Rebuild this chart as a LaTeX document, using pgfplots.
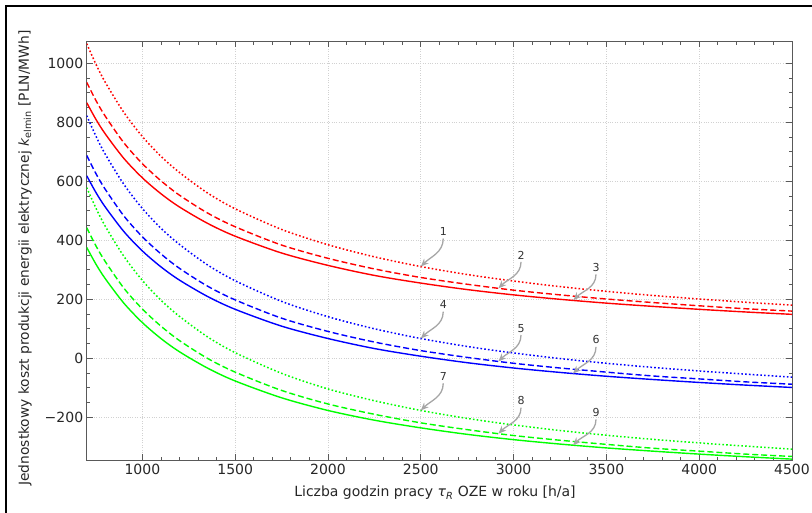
\documentclass[border=0pt]{standalone}
\usepackage{pgfplots}
\pgfplotsset{compat=1.18}
\usepackage{fontspec}
\setmainfont{DejaVu Sans}
\usetikzlibrary{arrows.meta}
\begin{document}
\begin{tikzpicture}
\useasboundingbox (0,0) rectangle (812pt,512pt);
\draw[black, line width=1.3pt] (6pt,-2pt) -- (6pt,506pt) -- (815pt,506pt);
\node[rotate=90, font=\fontsize{13.8}{16}\selectfont, text=black!85] at (25pt,254pt)
  {Jednostkowy koszt produkcji energii elektrycznej \textit{k}\textsubscript{elmin} [PLN/MWh]};
\node[font=\fontsize{14}{16}\selectfont, text=black!85] at (435pt,19pt)
  {Liczba godzin pracy \textit{τ}\textsubscript{\textit{R}} OZE w roku [h/a]};
\begin{axis}[
  at={(86.7pt,52pt)}, anchor=south west,
  scale only axis, width=705.3pt, height=418.7pt,
  xmin=700, xmax=4500, ymin=-345, ymax=1075,
  xtick={1000,1500,2000,2500,3000,3500,4000,4500},
  xticklabels={1000,1500,2000,2500,3000,3500,4000,4500},
  ytick={-200,0,200,400,600,800,1000},
  yticklabels={−200,0,200,400,600,800,1000},
  minor x tick num=4, minor y tick num=3,
  tick align=inside, tick pos=both,
  xticklabel pos=bottom, yticklabel pos=left,
  major tick length=6pt, minor tick length=3.5pt,
  grid=major,
  major grid style={dash pattern=on 0.8pt off 1.6pt, black!18, line width=0.6pt},
  axis line style={black!65, line width=0.9pt},
  tick style={black!65, line width=0.8pt},
  tick label style={font=\fontsize{14}{16}\selectfont, text=black!85},
  xticklabel style={yshift=-1pt},
  clip=true,
]
\pgfplotsset{
  sol/.style={line width=1.4pt, smooth},
  das/.style={line width=1.4pt, smooth, dash pattern=on 6pt off 3pt},
  dot/.style={line width=1.5pt, smooth, dash pattern=on 1.6pt off 2.2pt},
}
% red
\addplot[sol, red] coordinates {(700,867)(750,810)(800,761)(900,678)(1000,612)(1100,558)(1200,513)(1350,458)(1500,414)(1750,357)(2000,315)(2250,281)(2500,255)(2750,233)(3000,215)(3250,200)(3500,187)(3750,176)(4000,166)(4250,157)(4500,149)};
\addplot[das, red] coordinates {(700,936)(750,874)(800,821)(900,731)(1000,660)(1100,602)(1200,553)(1350,493)(1500,446)(1750,384)(2000,339)(2250,303)(2500,274)(2750,251)(3000,231)(3250,215)(3500,201)(3750,189)(4000,178)(4250,168)(4500,160)};
\addplot[dot, red] coordinates {(700,1067)(750,997)(800,936)(900,834)(1000,752)(1100,685)(1200,630)(1350,561)(1500,507)(1750,437)(2000,385)(2250,344)(2500,311)(2750,284)(3000,262)(3250,243)(3500,227)(3750,213)(4000,201)(4250,190)(4500,180)};
% blue
\addplot[sol, blue] coordinates {(700,619)(750,562)(800,513)(900,430)(1000,364)(1100,310)(1200,265)(1350,210)(1500,166)(1750,109)(2000,67)(2250,33)(2500,7)(2750,-15)(3000,-33)(3250,-48)(3500,-61)(3750,-72)(4000,-82)(4250,-91)(4500,-99)};
\addplot[das, blue] coordinates {(700,688)(750,626)(800,573)(900,483)(1000,412)(1100,354)(1200,305)(1350,245)(1500,198)(1750,136)(2000,91)(2250,55)(2500,26)(2750,3)(3000,-17)(3250,-33)(3500,-47)(3750,-60)(4000,-70)(4250,-80)(4500,-88)};
\addplot[dot, blue] coordinates {(700,823)(750,753)(800,692)(900,590)(1000,508)(1100,441)(1200,386)(1350,317)(1500,263)(1750,193)(2000,141)(2250,100)(2500,67)(2750,40)(3000,18)(3250,-1)(3500,-17)(3750,-31)(4000,-43)(4250,-54)(4500,-64)};
% green
\addplot[sol, green] coordinates {(700,376)(750,319)(800,270)(900,187)(1000,121)(1100,67)(1200,22)(1350,-33)(1500,-77)(1750,-134)(2000,-177)(2250,-210)(2500,-236)(2750,-258)(3000,-276)(3250,-291)(3500,-304)(3750,-315)(4000,-325)(4250,-334)(4500,-342)};
\addplot[das, green] coordinates {(700,443)(750,381)(800,328)(900,238)(1000,167)(1100,109)(1200,60)(1350,0)(1500,-47)(1750,-109)(2000,-155)(2250,-190)(2500,-219)(2750,-242)(3000,-262)(3250,-278)(3500,-292)(3750,-305)(4000,-315)(4250,-325)(4500,-333)};
\addplot[dot, green] coordinates {(700,579)(750,509)(800,448)(900,346)(1000,264)(1100,197)(1200,142)(1350,73)(1500,19)(1750,-51)(2000,-104)(2250,-144)(2500,-177)(2750,-204)(3000,-226)(3250,-245)(3500,-261)(3750,-275)(4000,-287)(4250,-298)(4500,-308)};
% annotations
\tikzset{lab/.style={font=\fontsize{11}{12}\selectfont, text=black!80, inner sep=1.5pt},
         arr/.style={black!35, line width=1.3pt, -{Stealth[length=8pt,width=6.5pt]}}}
\node[lab] (l1) at (axis cs:2621,429) {1};
\draw[arr] ([yshift=-1pt]l1.south) to[out=-90,in=45] (axis cs:2500,311);
\node[lab] (l2) at (axis cs:3040,350) {2};
\draw[arr] ([yshift=-1pt]l2.south) to[out=-90,in=45] (axis cs:2918,237);
\node[lab] (l3) at (axis cs:3444,308) {3};
\draw[arr] ([yshift=-1pt]l3.south) to[out=-90,in=45] (axis cs:3322,197);
\node[lab] (l4) at (axis cs:2621,181) {4};
\draw[arr] ([yshift=-1pt]l4.south) to[out=-90,in=45] (axis cs:2500,67);
\node[lab] (l5) at (axis cs:3040,102) {5};
\draw[arr] ([yshift=-1pt]l5.south) to[out=-90,in=45] (axis cs:2918,-11);
\node[lab] (l6) at (axis cs:3444,62) {6};
\draw[arr] ([yshift=-1pt]l6.south) to[out=-90,in=45] (axis cs:3320,-52);
\node[lab] (l7) at (axis cs:2621,-62) {7};
\draw[arr] ([yshift=-1pt]l7.south) to[out=-90,in=45] (axis cs:2500,-177);
\node[lab] (l8) at (axis cs:3040,-144) {8};
\draw[arr] ([yshift=-1pt]l8.south) to[out=-90,in=45] (axis cs:2918,-256);
\node[lab] (l9) at (axis cs:3444,-184) {9};
\draw[arr] ([yshift=-1pt]l9.south) to[out=-90,in=45] (axis cs:3320,-295);
\end{axis}
\end{tikzpicture}
\end{document}
